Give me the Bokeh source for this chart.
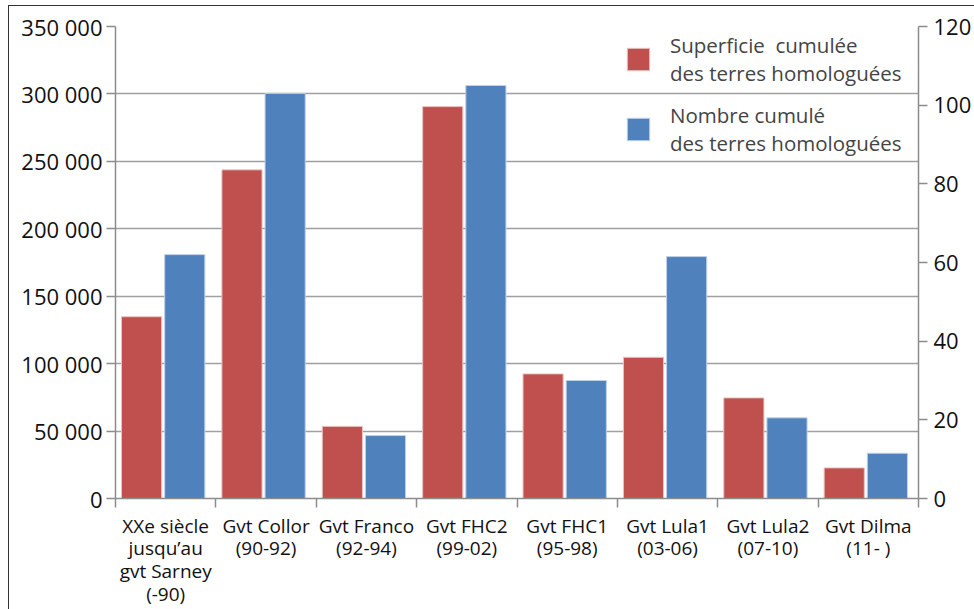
from bokeh.plotting import figure
from bokeh.models import (Range1d, LinearAxis, FixedTicker, Grid,
                          Legend, LegendItem, ColumnDataSource)
from bokeh.transform import dodge
from bokeh.embed import file_html
from bokeh.resources import INLINE

# ---- data ----
categories = ["XXe", "Collor", "Franco", "FHC2", "FHC1", "Lula1", "Lula2", "Dilma"]
category_labels = [
    "XXe siècle\njusqu\u2019au\ngvt Sarney\n(-90)",
    "Gvt Collor\n(90-92)",
    "Gvt Franco\n(92-94)",
    "Gvt FHC2\n(99-02)",
    "Gvt FHC1\n(95-98)",
    "Gvt Lula1\n(03-06)",
    "Gvt Lula2\n(07-10)",
    "Gvt Dilma\n(11- )",
]
superficie = [134800, 243700, 53500, 290600, 92400, 104700, 74600, 22700]
nombre = [62, 103, 16, 105, 30, 61.5, 20.5, 11.5]
left_ticks = [0, 50000, 100000, 150000, 200000, 250000, 300000, 350000]
left_tick_labels = ["0", "50 000", "100 000", "150 000", "200 000", "250 000", "300 000", "350 000"]
right_ticks = [0, 20, 40, 60, 80, 100, 120]
label_red = "Superficie  cumulée\ndes terres homologuées"
label_blue = "Nombre cumulé\ndes terres homologuées"

RED = "#C0504D"
BLUE = "#4F81BD"
GRAY = "#8C8C8C"
FONT = "Open Sans"

n = len(categories)
src = ColumnDataSource(dict(xi=list(range(n)), cat=categories, sup=superficie, nb=nombre))

p = figure(x_range=Range1d(0, n), y_range=Range1d(0, 350000),
           frame_width=803, frame_height=472, output_backend="svg", toolbar_location=None,
           x_axis_location=None, y_axis_location=None,
           min_border_left=106, min_border_right=48, min_border_top=20, min_border_bottom=98)
for g in p.grid:
    g.visible = False
p.extra_y_ranges = {"right": Range1d(0, 120)}
p.outline_line_color = None
p.background_fill_color = "white"
p.styles = {"border-left": "1.5px solid #333333", "border-top": "1.5px solid #333333",
            "margin-left": "8px", "margin-top": "5px"}

r_red = p.vbar(x=dodge("xi", 0.5 - 0.24), top="sup", width=0.40, source=src,
               fill_color=RED, line_color="#E8C4C3", line_width=1)
r_blue = p.vbar(x=dodge("xi", 0.5 + 0.19), top="nb", width=0.40, source=src,
                fill_color=BLUE, line_color="#BFD0E8", line_width=1, y_range_name="right")

grid = Grid(dimension=1, ticker=FixedTicker(ticks=left_ticks), grid_line_color="#A0A0A0",
            grid_line_width=1.5)
p.add_layout(grid)

def style_axis(ax, size):
    ax.axis_line_color = GRAY
    ax.axis_line_width = 1.5
    ax.major_tick_line_color = GRAY
    ax.major_tick_line_width = 1.5
    ax.major_tick_out = 9
    ax.major_tick_in = 0
    ax.minor_tick_line_color = None
    ax.major_label_text_font = FONT
    ax.major_label_text_font_size = size
    ax.major_label_text_color = "#111111"

ly = LinearAxis(ticker=FixedTicker(ticks=left_ticks),
                major_label_overrides={t: l for t, l in zip(left_ticks, left_tick_labels)})
style_axis(ly, "22px")
ly.major_label_standoff = 4
p.add_layout(ly, "left")

ry = LinearAxis(y_range_name="right", ticker=FixedTicker(ticks=right_ticks))
style_axis(ry, "22px")
ry.major_label_standoff = 6
p.add_layout(ry, "right")

centers = [i + 0.5 for i in range(n)]
bounds = list(range(n + 1))
bx = LinearAxis(ticker=FixedTicker(ticks=centers, minor_ticks=bounds),
                major_label_overrides={c: t for c, t in zip(centers, category_labels)})
style_axis(bx, "19px")
bx.major_tick_line_color = None
bx.major_tick_out = 0
bx.minor_tick_line_color = GRAY
bx.minor_tick_line_width = 1.5
bx.minor_tick_out = 9
bx.minor_tick_in = 0
bx.major_label_text_line_height = 0.88
bx.major_label_standoff = 5
p.add_layout(bx, "below")

legend = Legend(items=[LegendItem(label=label_red, renderers=[r_red]),
                       LegendItem(label=label_blue, renderers=[r_blue])],
                location="top_right", border_line_color=None, background_fill_alpha=0,
                label_text_font=FONT, label_text_font_size="20.5px",
                label_text_line_height=1.45, glyph_width=28, glyph_height=28,
                label_width=243, label_standoff=18, spacing=14, padding=3, margin=5)
p.add_layout(legend)

open("out.html", "w").write(file_html(p, INLINE))
